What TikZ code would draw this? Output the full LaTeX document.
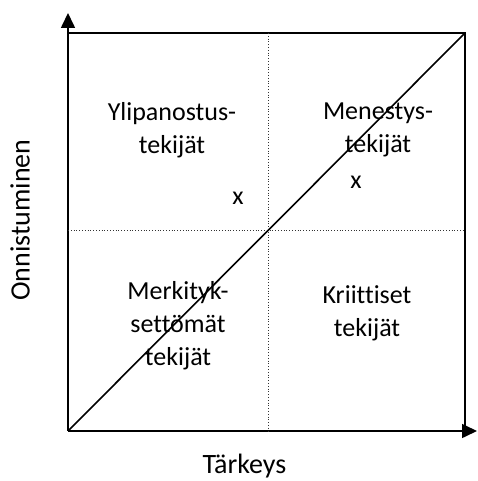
\documentclass[tikz,border=0pt]{standalone}
\usepackage{fontspec}
\setmainfont{Carlito}[Ligatures=NoCommon]
\usetikzlibrary{arrows.meta}
\tikzset{
    pm frame/.style={line width=1.6pt, black},
    pm axis/.style={line width=1.6pt, black, -{Triangle[length=15pt, width=14pt]}},
    pm split/.style={line width=0.8pt, black!80, dotted},
    pm diag/.style={line width=1.6pt, black},
    pm label/.style={font=\fontsize{26}{33}\selectfont, align=center, inner sep=0pt},
    pm mark/.style={font=\fontsize{26}{30}\selectfont, inner sep=0pt},
    pm axlbl/.style={font=\fontsize{28}{32}\selectfont, inner sep=0pt},
}

\begin{document}
\begin{tikzpicture}[x=1pt, y=1pt]
    \useasboundingbox (0,0) rectangle (478,481);
    % Corners of the matrix
    \coordinate (o) at (68,50);
    \coordinate (br) at (465,50);
    \coordinate (tr) at (465,448);
    \coordinate (tl) at (68,448);
    \coordinate (ytip) at (68,468);
    \coordinate (xtip) at (477,50);
    % Mid points for the dotted split
    \coordinate (mtop) at (268,448);
    \coordinate (mbot) at (268,50);
    \coordinate (mleft) at (68,251);
    \coordinate (mright) at (465,251);
    % Frame and axes
    \draw[pm frame] (tl) -- (tr) -- (br);
    \draw[pm axis] (o) -- (ytip);
    \draw[pm axis] (o) -- (xtip);
    \draw[pm split] (mtop) -- (mbot);
    \draw[pm split] (mleft) -- (mright);
    \draw[pm diag] (o) -- (tr);
    % Quadrant labels
    \node[pm label] (over) at (172,351) {Ylipanostus-\\tekijät};
    \node[pm label] (succ) at (378,351) {Menestys-\\tekijät};
    \node[pm label] (insig) at (178,155) {Merkityk-\\settömät\\tekijät};
    \node[pm label] (crit) at (367,168) {Kriittiset\\tekijät};
    % Marks
    \node[pm mark] (xa) at (238,283) {x};
    \node[pm mark] (xb) at (356,299) {x};
    % Axis labels
    \node[pm axlbl, anchor=base] (xlbl) at (244.5,7) {Tärkeys};
    \node[pm axlbl, rotate=90] (ylbl) at (20,261) {Onnistuminen};
\end{tikzpicture}
\end{document}
